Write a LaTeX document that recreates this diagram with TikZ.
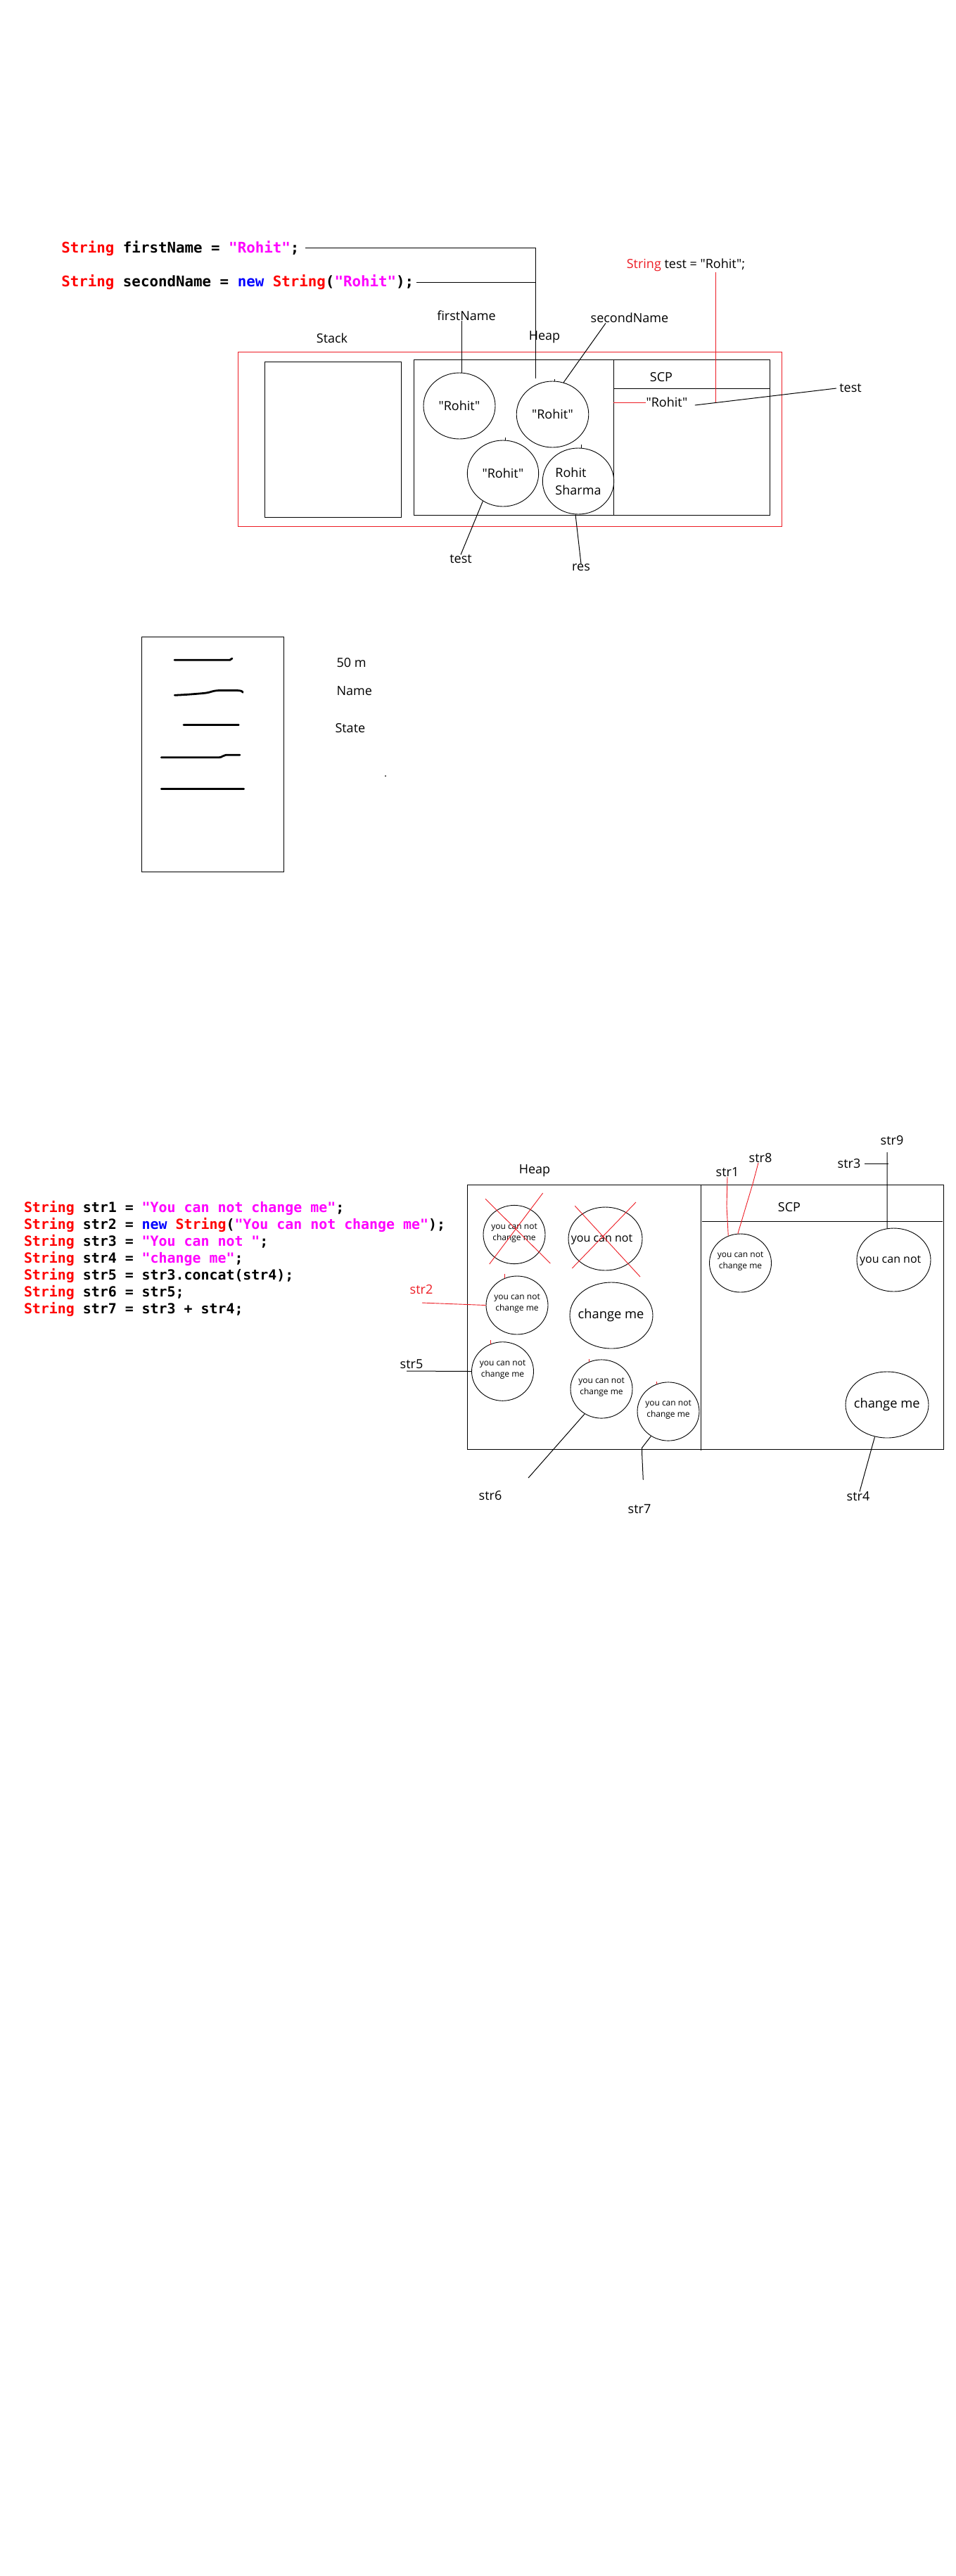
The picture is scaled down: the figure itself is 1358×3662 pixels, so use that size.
\documentclass[tikz,border=0pt]{standalone}
\usepackage{fontspec}
\usetikzlibrary{shapes.geometric}
\newfontfamily\lblfont{Open Sans}[Ligatures=TeXOff]
\newfontfamily\codefont{DejaVu Sans Mono}[Ligatures=TeXOff]
\definecolor{codered}{RGB}{255,0,0}
\definecolor{codemag}{RGB}{255,0,255}
\definecolor{codeblue}{RGB}{0,0,255}
\definecolor{pred}{RGB}{237,28,36}
\newcommand\cKw[1]{{\color{codered}#1}}
\newcommand\cStr[1]{{\color{codemag}#1}}
\newcommand\cNew[1]{{\color{codeblue}#1}}
\tikzset{
  lbl/.style={font=\lblfont\fontsize{18}{22}\selectfont, inner sep=0pt},
  lblw/.style={lbl, anchor=west},
  tinytxt/.style={font=\lblfont\fontsize{12}{16}\selectfont, inner sep=0pt, align=center},
  midtxt/.style={font=\lblfont\fontsize{16}{20}\selectfont, inner sep=0pt},
  codetop/.style={font=\codefont\bfseries\fontsize{20.8}{25}\selectfont, anchor=base west, inner sep=0pt},
  codebot/.style={font=\codefont\bfseries\fontsize{19.9}{24}\selectfont, anchor=base west, inner sep=0pt},
  blob/.style={draw, ellipse, inner sep=0pt, line width=0.9pt},
  cross/.style={draw=pred, line width=0.9pt},
  pen/.style={line width=2.8pt, line cap=round, line join=round},
  redline/.style={draw=pred, line width=0.9pt},
}
\begin{document}
\begin{tikzpicture}[x=1pt, y=-1pt, line width=1pt]
\fill[white] (0,0) rectangle (1358,3662);
\useasboundingbox (0,0) rectangle (1358,3662);

% ---------- first example: literal vs new String ----------
\node[codetop] (l1) at (86.8,359) {\cKw{String} firstName = \cStr{"Rohit"};};
\node[codetop] (l2) at (86.8,407.3) {\cKw{String} secondName = \cNew{new} \cKw{String}(\cStr{"Rohit"});};

\draw[pred] (338,500) rectangle (1111,748);
\draw (376.5,514) rectangle (570.5,735);
\draw (588,511) rectangle (1094,732);
\coordinate (div) at (872,511);
\draw (div) -- (872,732);
\draw (872,552) -- (1094,552);

\node[lbl] (stk) at (472,481) {Stack};
\node[lbl] (hp) at (774,479) {Heap};
\node[lbl] (scp) at (940,536) {SCP};
\node[lbl] (fn) at (663,449) {firstName};
\node[lbl] (sn) at (895,452) {secondName};

\node[blob, lbl, minimum width=102pt, minimum height=94pt] (c1) at (653,577) {"Rohit"};
\node[blob, lbl, minimum width=102.6pt, minimum height=94pt] (c2) at (785.5,589) {"Rohit"};
\node[blob, lbl, minimum width=101.4pt, minimum height=94pt] (c3) at (715,673) {"Rohit"};
\node[blob, lbl, minimum width=101.4pt, minimum height=94pt, align=left,
      font=\lblfont\fontsize{18}{25}\selectfont] (c4) at (822,684) {Rohit\\Sharma};

% small ticks on the heap objects
\draw[line width=0.9pt] ([xshift=2.5pt]c2.north) -- ++(0,-3);
\draw[line width=0.9pt] ([xshift=3.5pt]c3.north) -- ++(0,-3.5);
\draw[line width=0.9pt] ([xshift=4pt]c4.north) -- ++(0,-5);

\coordinate (hj) at (761,538);
\draw ([xshift=8pt]l1.east) -| (hj);
\draw ([xshift=3pt]l2.east) -- (l2.east -| hj);

\draw ([xshift=3pt]c1.north) -- ([xshift=3pt]c1.north |- fn.south);
\draw (c2.71) -- ([xshift=-34pt]sn.south);

\node[lbl] (tb) at (655,795) {test};
\node[lbl] (res) at (826,807) {res};
\draw (c3.234) -- (tb.north);
\draw ([xshift=-4pt]c4.south) -- (res.north);

\node[lbl] (td) at (975,377) {{\color{pred}String} test = "Rohit";};
\node[lbl] (sR) at (948,572) {"Rohit"};
\node[lbl] (tt) at (1209,552) {test};
\coordinate (tj) at (1017.5,572);
\draw[redline] (td.south -| tj) -- (tj);
\draw[redline] (sR.west) -- (sR.west -| div);
\draw ([xshift=10pt,yshift=-4pt]sR.east) -- ([xshift=-4pt]tt.west);

% ---------- object sketch ----------
\draw (201,905) rectangle (403,1239);
\draw[pen] (248,938.3) -- (326.7,938.3) -- (330,936);
\draw[pen] plot[smooth, tension=0.5] coordinates {(248.3,988.3) (266.7,987.3) (293.3,985) (308.3,981.7) (340,981.7) (345,984.3)};
\draw[pen] (261,1030.7) -- (339.3,1030.7);
\draw[pen] (229.3,1076.7) -- (311.7,1076.7) .. controls (316,1076.7) and (317,1073.3) .. (321,1073.3) -- (341,1073.3);
\draw[pen] (229.3,1121.3) -- (346.7,1121.3);
\node[lblw] (f1) at (478,942) {50 m};
\node[lblw] (f2) at (478,982) {Name};
\node[lblw] (f3) at (476,1035) {State};
\fill (548,1103) circle (1pt);

% ---------- second example: immutability ----------
\node[codebot] (b1) at (33.5,1723.3) {\cKw{String} str1 = \cStr{"You can not change me"};};
\node[codebot] (b2) at (33.5,1747.4) {\cKw{String} str2 = \cNew{new} \cKw{String}(\cStr{"You can not change me"});};
\node[codebot] (b3) at (33.5,1771.5) {\cKw{String} str3 = \cStr{"You can not "};};
\node[codebot] (b4) at (33.5,1795.6) {\cKw{String} str4 = \cStr{"change me"};};
\node[codebot] (b5) at (33.5,1819.7) {\cKw{String} str5 = str3.concat(str4);};
\node[codebot] (b6) at (33.5,1843.8) {\cKw{String} str6 = str5;};
\node[codebot] (b7) at (33.5,1867.9) {\cKw{String} str7 = str3 + str4;};

\draw (664,1684) rectangle (1341,2060);
\draw (996,1684) -- (996,2062);
\draw (998,1736) -- (1340,1736);
\node[lbl] (hp2) at (760,1664) {Heap};
\node[lbl] (scp2) at (1122,1716) {SCP};

% heap objects
\node[blob, minimum width=88pt, minimum height=83.2pt] (e1) at (731,1755) {};
\node[tinytxt] (e1t) at (731,1753) {you can not\\change me};
\node[blob, minimum width=105pt, minimum height=90pt] (e2) at (860.5,1761) {};
\node[midtxt] (e2t) at (855.5,1762) {you can not};
\node[blob, minimum width=88pt, minimum height=83pt] (e3) at (735,1855.5) {};
\node[tinytxt] (e3t) at (735,1853) {you can not\\change me};
\node[blob, minimum width=118pt, minimum height=94pt] (e4) at (869,1870) {};
\node[lbl, font=\lblfont\fontsize{18.3}{22}\selectfont] (e4t) at (868.5,1869.6) {change me};
\node[blob, minimum width=88pt, minimum height=83.6pt] (e5) at (714.5,1949.5) {};
\node[tinytxt] (e5t) at (714.5,1947) {you can not\\change me};
\node[blob, minimum width=88pt, minimum height=83.2pt] (e6) at (855,1974.5) {};
\node[tinytxt] (e6t) at (855,1972) {you can not\\change me};
\node[blob, minimum width=88pt, minimum height=83.2pt] (e7) at (950,2006.5) {};
\node[tinytxt] (e7t) at (950,2004) {you can not\\change me};

% string constant pool objects
\node[blob, minimum width=88pt, minimum height=83pt] (e8) at (1052.5,1795.5) {};
\node[tinytxt] (e8t) at (1052.5,1793) {you can not\\change me};
\node[blob, minimum width=105pt, minimum height=90pt] (e9) at (1270.5,1791) {};
\node[midtxt] (e9t) at (1265.7,1792.5) {you can not};
\node[blob, minimum width=118pt, minimum height=94pt] (e10) at (1261,1997) {};
\node[lbl, font=\lblfont\fontsize{18.3}{22}\selectfont] (e10t) at (1260.7,1996.4) {change me};

% garbage: crossed out
\draw[cross] (690,1704.3) -- (782.3,1796);
\draw[cross] (771.7,1696) -- (695.7,1797);
\draw[cross] (817.3,1714.3) -- (910,1815);
\draw[cross] (904,1709) -- (813.3,1802.9);

% red ticks on the heap copies
\draw[redline] ([xshift=-18pt,yshift=-3.6pt]e3.north) -- ++(0,-6);
\draw[redline] ([xshift=-17.5pt,yshift=-3.5pt]e5.north) -- ++(0,-6);
\draw[redline] ([xshift=-18pt,yshift=-3.6pt]e6.north) -- ++(0,-4);
\draw[redline] ([xshift=-17pt,yshift=-3.4pt]e7.north) -- ++(0,-4);

% references
\node[lbl, text=pred] (s2) at (599,1833) {str2};
\coordinate (s2a) at (600,1852);
\draw[redline] (s2a) -- (e3.west);

\node[lbl] (s5) at (585,1939) {str5};
\coordinate (s5a) at (578,1949);
\draw (s5a) -- (e5.west);

\node[lbl] (s6) at (697,2126) {str6};
\coordinate (s6a) at (751,2101);
\draw (e6.236) -- (s6a);

\node[lbl] (s7) at (909,2145) {str7};
\coordinate (s7a) at (914.3,2103.6);
\draw (e7.235) -- (912.7,2058) -- (912.7,2068.6) -- (s7a);

\node[lbl] (s1) at (1034,1666) {str1};
\draw[redline] (s1.south) -- (1033,1715) -- (e8.114);

\node[lbl] (s8) at (1081,1646) {str8};
\draw[redline] ([xshift=-3pt]s8.south) -- (1070,1683) -- (e8.95);

\node[lbl] (s9) at (1268,1621) {str9};
\coordinate (s9a) at (1261,1638);
\draw (s9a) -- (e9.102);

\node[lbl] (s3) at (1207,1654) {str3};
\draw ([xshift=5pt]s3.east) -- ([xshift=2pt]s3.east -| s9a);

\node[lbl] (s4) at (1220,2127.5) {str4};
\draw (e10.249) -- ([xshift=2pt]s4.north);
\end{tikzpicture}
\end{document}
